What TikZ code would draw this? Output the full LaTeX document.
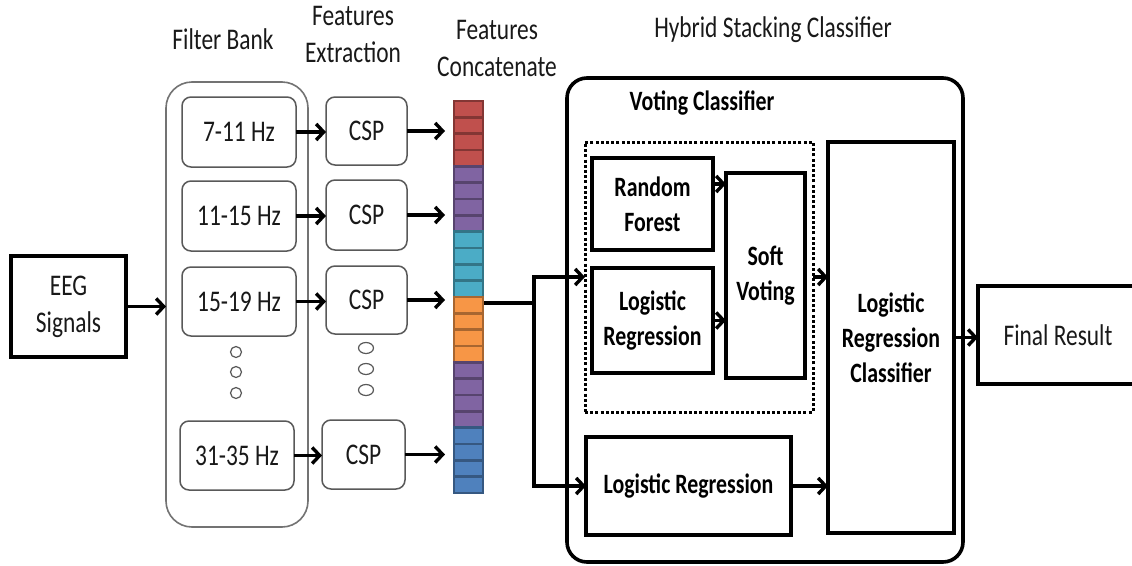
\documentclass[tikz,border=0pt]{standalone}
\usepackage{fontspec}
\setmainfont{Carlito}[FakeStretch=0.78]
\usetikzlibrary{arrows.meta,shapes.geometric}
\definecolor{cRed}{HTML}{C0504D}
\definecolor{cPur}{HTML}{8064A2}
\definecolor{cTeal}{HTML}{4BACC6}
\definecolor{cOr}{HTML}{F79646}
\definecolor{cBlue}{HTML}{4F81BD}
\begin{document}
\begin{tikzpicture}[x=1pt,y=-1pt,
  every node/.style={inner sep=0pt, outer sep=0pt},
  reg/.style={font=\fontsize{30}{37}\selectfont, align=center, text=black!90},
  bld/.style={font=\fontsize{28}{35}\selectfont\bfseries, align=center},
  thinbox/.style={draw=black!65, line width=1.5pt, rounded corners=9pt, reg},
  boldbox/.style={draw=black, line width=3.6pt, bld},
  conn/.style={line width=3.4pt},
  arr/.style={line width=3.4pt, -{Straight Barb[length=7.5pt,width=16pt]}},
  dotc/.style={draw=black!65, line width=1.2pt}
]
\clip (0,0) rectangle (1132,565);
\fill[white] (0,0) rectangle (1132,565);

% headings
\node[reg] (hFB) at (223,39) {Filter Bank};
\node[reg] (hFE) at (353,34) {Features\\Extraction};
\node[reg] (hFC) at (497,48) {Features\\Concatenate};
\node[reg] (hHS) at (773,30) {Hybrid Stacking Classifier};

% EEG
\node[draw=black, line width=3.6pt, reg, minimum width=115pt, minimum height=101pt] (eeg) at (68.5,306.5) {EEG\\Signals};

% filter bank
\node[draw=black!55, line width=1.6pt, rounded corners=26pt, minimum width=142pt, minimum height=445pt] (fb) at (237,304.5) {};
\node[thinbox, minimum width=114pt, minimum height=70pt] (f1) at (239,132) {7-11 Hz};
\node[thinbox, minimum width=114pt, minimum height=70pt] (f2) at (239,216) {11-15 Hz};
\node[thinbox, minimum width=114pt, minimum height=69pt] (f3) at (239,301.5) {15-19 Hz};
\node[thinbox, minimum width=114pt, minimum height=69pt] (f4) at (237,455.5) {31-35 Hz};

\node[dotc, circle, minimum size=11pt] (d1) at (236,352) {};
\node[dotc, circle, minimum size=11pt] (d2) at (236,372) {};
\node[dotc, circle, minimum size=11pt] (d3) at (236,393) {};

% CSP
\node[thinbox, minimum width=81pt, minimum height=68pt] (c1) at (366.5,131) {CSP};
\node[thinbox, minimum width=81pt, minimum height=70pt] (c2) at (366.5,215) {CSP};
\node[thinbox, minimum width=81pt, minimum height=68pt] (c3) at (366.5,300) {CSP};
\node[thinbox, minimum width=83pt, minimum height=69pt] (c4) at (363.5,454.5) {CSP};

\node[dotc, ellipse, minimum width=15pt, minimum height=11pt] (e1) at (366,348) {};
\node[dotc, ellipse, minimum width=15pt, minimum height=11pt] (e2) at (366,369) {};
\node[dotc, ellipse, minimum width=15pt, minimum height=11pt] (e3) at (366,390) {};

% bar
\node[minimum width=31pt, minimum height=392pt] (bar) at (468.5,297) {};
\foreach \c [count=\k from 0] in {cRed,cPur,cTeal,cOr,cPur,cBlue}{
  \foreach \j in {0,...,3}{
    \pgfmathsetmacro{\ya}{101+(\k*4+\j)*16.333}
    \pgfmathsetmacro{\yb}{\ya+16.333}
    \draw[fill=\c, draw=\c!68!black, line width=2.4pt] (454,\ya) rectangle (483,\yb);
  }
}

% arrows left part
\draw[arr] (eeg.east) -- (eeg.east -| fb.west);
\draw[arr] (f1.east) -- (f1.east -| c1.west);
\draw[arr] (f2.east) -- (f2.east -| c2.west);
\draw[arr] (f3.east) -- (f3.east -| c3.west);
\draw[arr] (f4.east) -- (f4.east -| c4.west);
\draw[arr, shorten >=8pt] (c1.east) -- (c1.east -| bar.west);
\draw[arr, shorten >=8pt] (c2.east) -- (c2.east -| bar.west);
\draw[arr, shorten >=8pt] (c3.east) -- (c3.east -| bar.west);
\draw[arr, shorten >=8pt] (c4.east) -- (c4.east -| bar.west);

% hybrid stacking classifier
\node[draw=black, line width=3.6pt, rounded corners=20pt, minimum width=396pt, minimum height=484pt] (hyb) at (765,320) {};
\node[bld] (vct) at (702,103) {Voting Classifier};
\node[draw=black, line width=3pt, dash pattern=on 3pt off 2.2pt, minimum width=228pt, minimum height=270pt] (vote) at (699,277) {};
\node[boldbox, minimum width=121pt, minimum height=92pt] (rf) at (652.5,204) {Random\\Forest};
\node[boldbox, minimum width=121pt, minimum height=105pt] (lr1) at (652.5,320.5) {Logistic\\Regression};
\node[boldbox, minimum width=79pt, minimum height=205pt] (sv) at (765.5,275.5) {Soft\\Voting};
\node[boldbox, minimum width=126pt, minimum height=391pt] (lrc) at (891,337.5) {Logistic\\Regression\\Classifier};
\node[boldbox, minimum width=205pt, minimum height=98pt] (lr2) at (688.5,486) {Logistic Regression};
\node[draw=black, line width=3.6pt, reg, minimum width=160pt, minimum height=98pt] (fin) at (1058,335) {Final Result};

% connectors right part
\coordinate (j) at (534,303);
\draw[conn] (bar.east |- j) -- (j);
\draw[arr] (j) |- (vote.west);
\draw[arr] (j) |- (lr2.west);
\draw[arr] ([yshift=20pt]rf.east) -- ([yshift=20pt]rf.east -| sv.west);
\draw[arr] (lr1.east) -- (lr1.east -| sv.west);
\draw[arr] (vote.east) -- (vote.east -| lrc.west);
\draw[arr] (lr2.east) -- (lr2.east -| lrc.west);
\draw[arr] (lrc.east) -- (lrc.east -| fin.west);
\end{tikzpicture}
\end{document}
